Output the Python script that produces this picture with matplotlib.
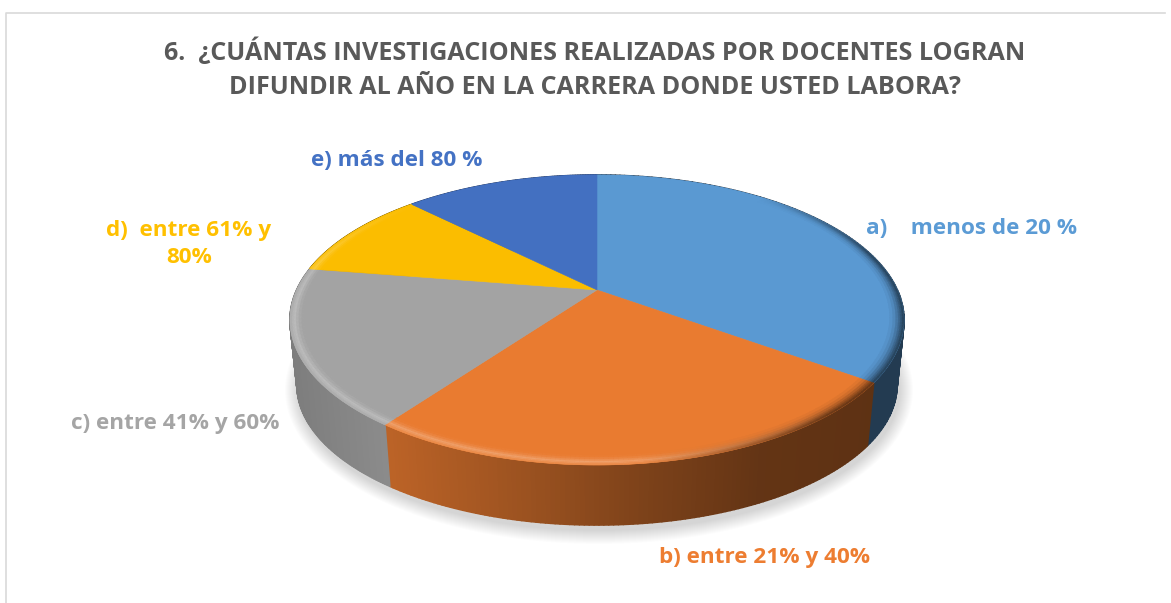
import numpy as np
import matplotlib
matplotlib.use('Agg')
import matplotlib.pyplot as plt
from matplotlib.patches import Ellipse, Polygon
from matplotlib.collections import PolyCollection

plt.rcParams['font.family'] = ['Open Sans', 'DejaVu Sans']

title_lines = ['6.  ¿CUÁNTAS INVESTIGACIONES REALIZADAS POR DOCENTES LOGRAN', 'DIFUNDIR AL AÑO EN LA CARRERA DONDE USTED LABORA?']
labels = ['a)    menos de 20 %', 'b) entre 21% y 40%', 'c) entre 41% y 60%', 'd)  entre 61% y\n80%', 'e) más del 80 %']
values = [35, 25, 17.5, 10, 12.5]
colors = ['#5b9bd5', '#ed7d31', '#a5a5a5', '#ffc000', '#4472c4']
label_xy = [(972, 228), (765, 558), (175, 423), (189, 244), (397, 161)]

# pie geometry in pixels, top face and bottom rim
CX, CY, RX, RY = 597, 320, 307, 145
BCY, BRX, BRY = 385, 300, 140
TILT = 0.207

# side colour against x position: x, shade factor on the base colour
SIDE_X = [290, 390, 520, 640, 760, 905]
SIDE_SHADE = {
    0: [0.38, 0.38, 0.38, 0.38, 0.38, 0.38],
    1: [0.79, 0.79, 0.66, 0.53, 0.42, 0.39],
    2: [0.76, 0.85, 0.85, 0.85, 0.85, 0.85],
    3: [0.6, 0.6, 0.6, 0.6, 0.6, 0.6],
    4: [0.6, 0.6, 0.6, 0.6, 0.6, 0.6],
}


def project(theta, r=1.0):
    # unit disc to perspective ellipse, straight lines stay straight
    u = r*np.sin(theta)
    v = r*np.cos(theta)
    d = 1 + TILT*v
    return np.sqrt(1 - TILT**2)*u/d, (v + TILT)/d


def top_xy(theta, r=1.0):
    u, v = project(theta, r)
    return CX + RX*u, CY - RY*v


def bottom_xy(theta):
    u, v = project(theta)
    return CX + BRX*u, BCY - BRY*v


fig = plt.figure(figsize=(11.71, 6.03), dpi=100)
ax = fig.add_axes([0, 0, 1, 1])
ax.set_xlim(0, 1171)
ax.set_ylim(603, 0)
ax.axis('off')

# frame
ax.plot([5.5, 5.5, 1165], [603, 12.5, 12.5], color='#d9d9d9', lw=1.2, zorder=1)

# soft shadow
for k in range(14, 0, -1):
    ax.add_patch(Ellipse((CX + 2, BCY + 5), 2*(BRX + k), 2*(BRY + k), fc='k', ec='none', alpha=0.012, zorder=2))

fractions = np.array(values)/sum(values)
edges = np.concatenate([[0], np.cumsum(fractions)])*2*np.pi

# side wall
for i in range(len(values)):
    th = np.linspace(edges[i], edges[i+1], 120)
    x1, y1 = top_xy(th)
    x2, y2 = bottom_xy(th)
    base = np.array(matplotlib.colors.to_rgb(colors[i]))
    quads = []
    cols = []
    for j in range(len(th) - 1):
        quads.append([(x1[j], y1[j]), (x1[j+1], y1[j+1]), (x2[j+1], y2[j+1]), (x2[j], y2[j])])
        cols.append(base*np.interp((x1[j] + x1[j+1])/2, SIDE_X, SIDE_SHADE[i]))
    ax.add_collection(PolyCollection(quads, facecolors=cols, edgecolors=cols, linewidths=1.2, zorder=3))

# top face
for i in range(len(values)):
    th = np.linspace(edges[i], edges[i+1], 120)
    x, y = top_xy(th)
    ax0, ay0 = top_xy(0.0, 0.0)
    pts = np.column_stack([np.r_[ax0, x], np.r_[ay0, y]])
    face = np.array(matplotlib.colors.to_rgb(colors[i]))*0.985
    ax.add_patch(Polygon(pts, fc=face, ec=face, lw=0.4, zorder=4))

# bevel band round the rim of the top face
rings = np.array([0.955, 0.965, 0.974, 0.982, 0.988, 0.994, 1.0])
glow = np.array([0.05, 0.25, 0.6, 1.0, 0.8, 0.5])
dark = np.array([0.08, 0.2, 0.4, 0.6, 0.8, 1.0])
for i in range(len(values)):
    th = np.linspace(edges[i], edges[i+1], 120)
    base = np.array(matplotlib.colors.to_rgb(colors[i]))*0.985
    quads = []
    cols = []
    for j in range(len(th) - 1):
        mid = (th[j] + th[j+1])/2
        u, v = np.sin(mid), np.cos(mid)
        g = -0.7*u - 0.7*v
        d = 0.85*u - 0.25*v
        for k in range(len(rings) - 1):
            xa, ya = top_xy(th[j], rings[k])
            xb, yb = top_xy(th[j+1], rings[k])
            xc, yc = top_xy(th[j+1], rings[k+1])
            xd, yd = top_xy(th[j], rings[k+1])
            quads.append([(xa, ya), (xb, yb), (xc, yc), (xd, yd)])
            c = base + (1 - base)*0.28*np.clip(g*1.5, 0, 1)*glow[k]
            c = c*(1 - 0.55*np.clip((d - 0.35)/0.4, 0, 1)*dark[k])
            cols.append(c)
    ax.add_collection(PolyCollection(quads, facecolors=cols, edgecolors=cols, linewidths=0.3, zorder=5))

for line, y in zip(title_lines, [52, 87]):
    ax.text(595, y, line, ha='center', va='center', fontsize=18.1, fontweight='bold', color='#595959', zorder=6)

for lab, (x, y), c in zip(labels, label_xy, colors):
    ax.text(x, y, lab, ha='center', va='center', fontsize=16.2, fontweight='bold', color=c, linespacing=1.42, zorder=6)

fig.savefig('out.png', dpi=100)
